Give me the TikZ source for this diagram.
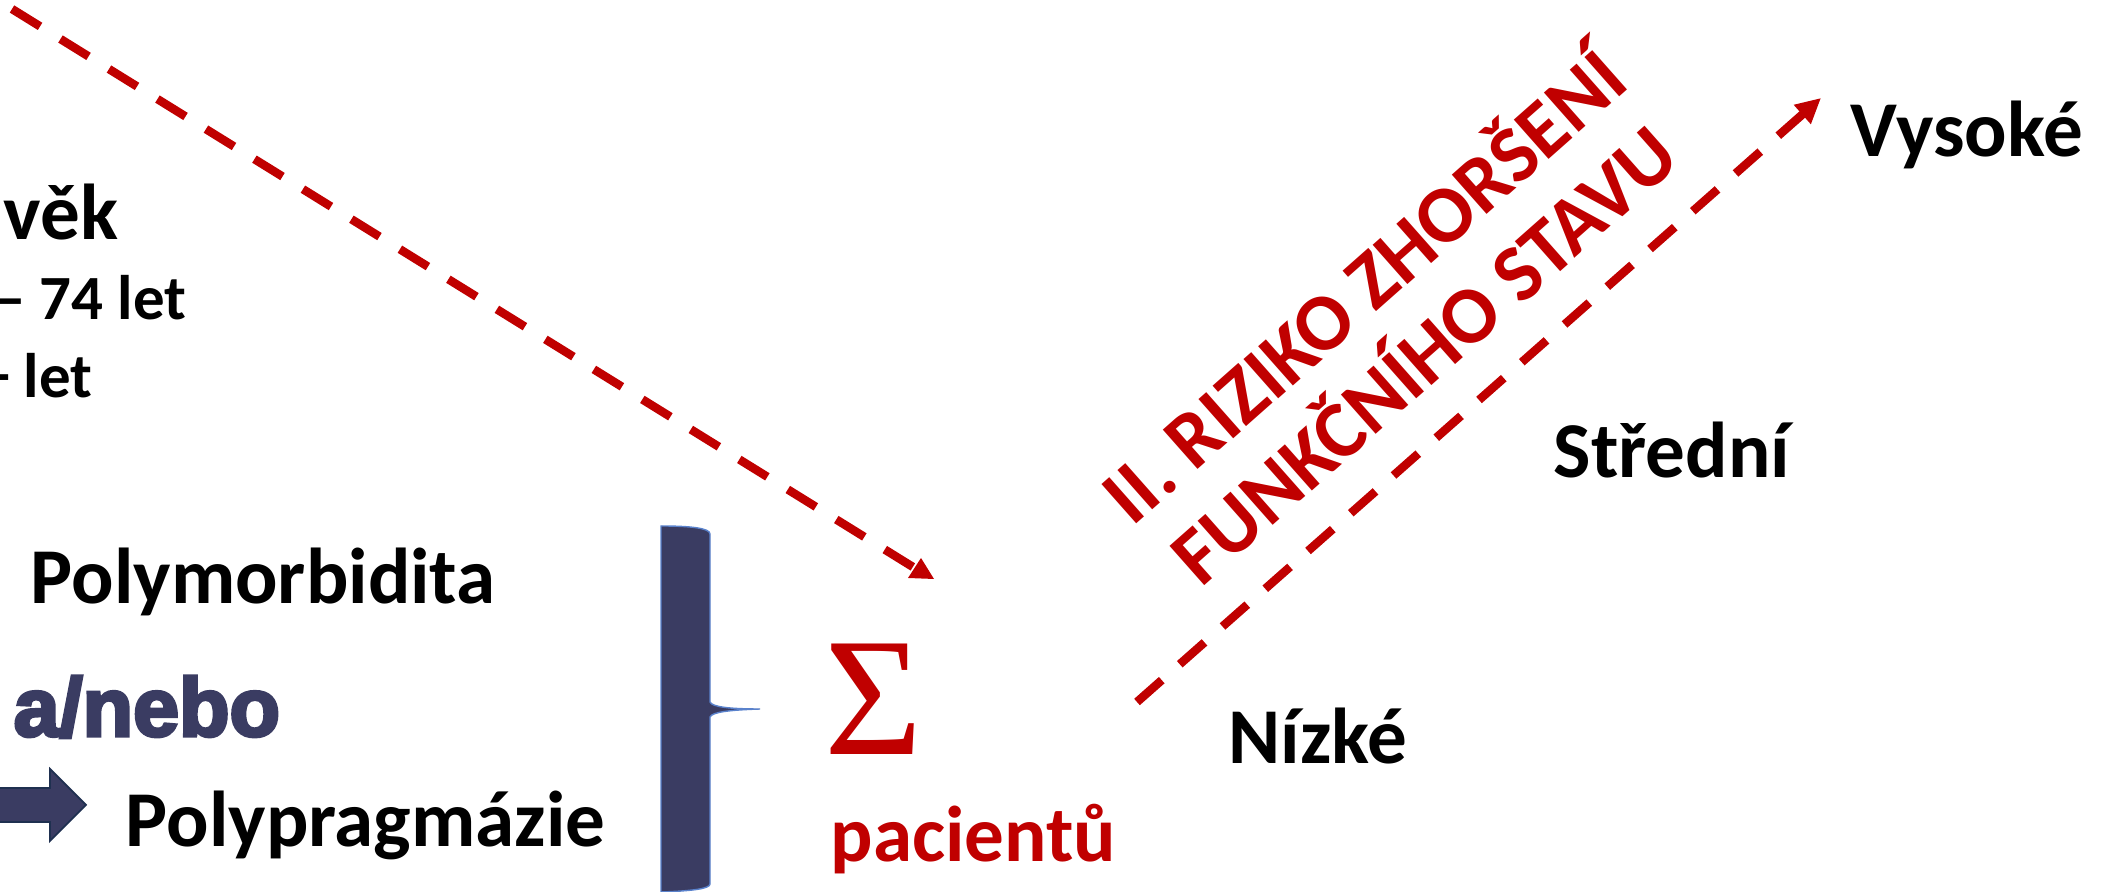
\documentclass[tikz,border=0pt]{standalone}
\usepackage{fontspec}
\setmainfont{Carlito}
\newfontfamily\heavyfont[BoldFeatures={FakeBold=4}]{Liberation Sans}
\newfontfamily\sigmafont{Liberation Serif}
\usetikzlibrary{arrows.meta,calc}
\definecolor{riskred}{HTML}{C00000}
\definecolor{navy}{HTML}{3A3C62}
\definecolor{edgeblue}{HTML}{5A82CC}
\definecolor{arrowedge}{HTML}{1F3050}
\tikzset{
  lbl/.style={font=\bfseries\fontsize{22.5}{27}\selectfont, inner sep=0pt, anchor=base west},
  agelbl/.style={font=\bfseries\fontsize{17.9}{21}\selectfont, inner sep=0pt, anchor=base east},
  riskline/.style={draw=riskred, line width=0.085cm, dash pattern=on 0.33cm off 0.24cm},
  navyshape/.style={fill=navy},
}
\begin{document}
\begin{tikzpicture}[x=0.01cm,y=-0.01cm]
\useasboundingbox (0,0) rectangle (2111,892);
\clip (0,0) rectangle (2111,892);

% age group labels (left column)
\node[lbl] (vek) at (3,240) {věk};
\node[agelbl] (age1) at (187,320) {– 74 let};
\node[agelbl] (age2) at (93,398) {+ let};

% multimorbidity / polypharmacy
\node[lbl] (polym) at (30,604) {Polymorbidita};
\node[font=\heavyfont\bfseries\fontsize{23.5}{27}\selectfont, text=navy, inner sep=0pt, anchor=base west] (anebo) at (13,736) {a/nebo};
\node[lbl] (polyp) at (125,847) {Polypragmázie};

% block arrow pointing at Polypragmázie
\filldraw[navyshape, draw=arrowedge, line width=0.5pt]
  (-10,788) -- (50,788) -- (50,769) -- (86,805) -- (50,841) -- (50,822) -- (-10,822) -- cycle;

% large right brace
\filldraw[navyshape, draw=edgeblue, line width=0.4pt]
  (661,526) .. controls (690,526) and (710,528) .. (710,534)
  -- (710,702) .. controls (712,707) and (730,709) .. (760,709)
  .. controls (730,710) and (712,712) .. (710,717)
  -- (710,884) .. controls (710,889) and (690,891) .. (661,892) -- cycle;

% sum of patients
\node[font=\sigmafont\fontsize{48}{50}\selectfont, text=riskred, inner sep=0pt, anchor=base west] (sigma) at (824,755) {Σ};
\node[lbl, text=riskred] (pac) at (830,862) {pacientů};

% risk levels
\node[lbl] (low) at (1228,764) {Nízké};
\node[lbl] (mid) at (1553,478) {Střední};
\node[lbl] (high) at (1850,157) {Vysoké};

% dashed arrow from the age column down to the sum
\coordinate (s1) at (12,9);
\coordinate (e1) at (921,572);
\draw[riskline] (s1) -- (e1);
\fill[riskred] ($(e1)+(-13,6)$) -- ($(e1)+(0,-14)$) -- ($(e1)+(13,7)$) -- cycle;

% rising dashed arrow of increasing risk
\coordinate (s2) at (1137,702);
\coordinate (e2) at (1821,98);
\draw[riskline, -{Triangle[length=0.25cm,width=0.24cm]}] (s2) -- (e2);

% rotated title along the rising arrow
\node[text=riskred, font=\bfseries\fontsize{23}{26}\selectfont, rotate=41.5, align=center, inner sep=0pt] (risk) at (1390,316)
  {II. RIZIKO ZHORŠENÍ\\FUNKČNÍHO STAVU};
\end{tikzpicture}
\end{document}
